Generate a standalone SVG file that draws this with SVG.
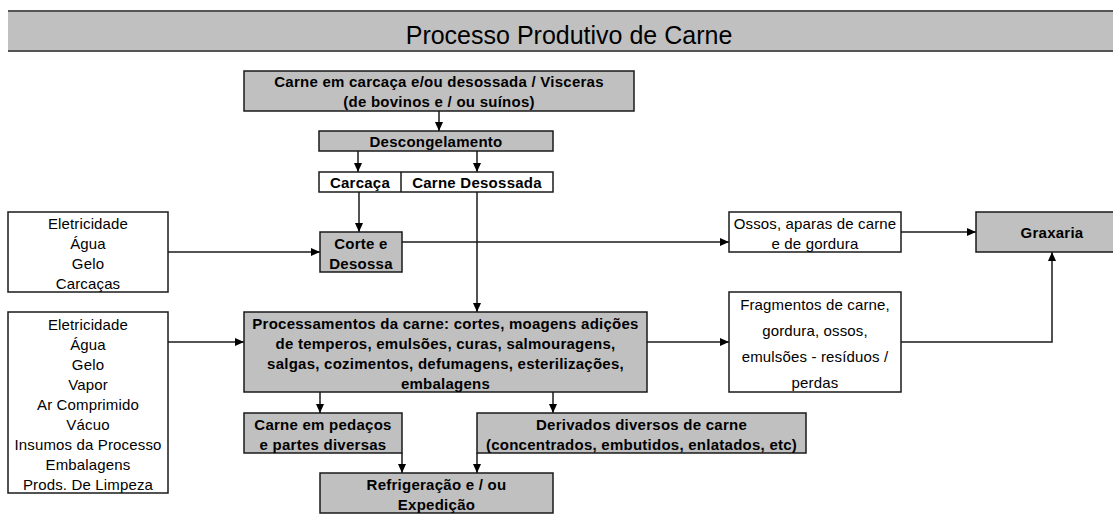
<svg xmlns="http://www.w3.org/2000/svg" width="1113" height="526" viewBox="0 0 1113 526">
<style>
.g{fill:#c0c0c0;stroke:#1a1a1a;stroke-width:1.5}
.w{fill:#fff;stroke:#1a1a1a;stroke-width:1.5}
text{font-family:"Liberation Sans",Arial,sans-serif;font-size:15px;fill:#000;text-anchor:middle;letter-spacing:0.15px}
.b{font-weight:bold;letter-spacing:0.25px}
.c{fill:none;stroke:#1a1a1a;stroke-width:1.5}
</style>
<defs>
<marker id="ah" markerUnits="userSpaceOnUse" markerWidth="9" markerHeight="8" refX="9" refY="4" orient="auto">
<path d="M0,0 L9,4 L0,8 z" fill="#000"/>
</marker>
</defs>
<rect x="0" y="0" width="1113" height="526" fill="#fff"/>
<g id="header">
<rect x="8" y="11" width="1110" height="40" fill="#c0c0c0"/>
<line x1="8" y1="11" x2="1113" y2="11" stroke="#555" stroke-width="2"/>
<line x1="8" y1="51" x2="1113" y2="51" stroke="#555" stroke-width="2"/>
<text x="569" y="44" style="font-size:25px;letter-spacing:0">Processo Produtivo de Carne</text>
</g>
<g id="connectors">
<line class="c" x1="439" y1="111" x2="439" y2="131" marker-end="url(#ah)"/>
<line class="c" x1="358" y1="151" x2="358" y2="172" marker-end="url(#ah)"/>
<line class="c" x1="477" y1="151" x2="477" y2="172" marker-end="url(#ah)"/>
<line class="c" x1="359" y1="192" x2="359" y2="232" marker-end="url(#ah)"/>
<line class="c" x1="477" y1="192" x2="477" y2="312" marker-end="url(#ah)"/>
<line class="c" x1="168" y1="252" x2="320" y2="252" marker-end="url(#ah)"/>
<line class="c" x1="402" y1="242" x2="729" y2="242" marker-end="url(#ah)"/>
<line class="c" x1="901" y1="232" x2="976" y2="232" marker-end="url(#ah)"/>
<line class="c" x1="168" y1="342" x2="244" y2="342" marker-end="url(#ah)"/>
<line class="c" x1="647" y1="342" x2="729" y2="342" marker-end="url(#ah)"/>
<polyline class="c" points="901,342 1052,342 1052,252" marker-end="url(#ah)"/>
<line class="c" x1="320" y1="392" x2="320" y2="413" marker-end="url(#ah)"/>
<line class="c" x1="553" y1="392" x2="553" y2="413" marker-end="url(#ah)"/>
<line class="c" x1="402" y1="453" x2="402" y2="473" marker-end="url(#ah)"/>
<line class="c" x1="477" y1="453" x2="477" y2="473" marker-end="url(#ah)"/>
</g>
<g id="carne-carcaca">
<rect class="g" x="244" y="71" width="390" height="40"/>
<text class="b" x="439" y="86.5">Carne em carcaça e/ou desossada / Visceras</text>
<text class="b" x="439" y="106.5">(de bovinos e / ou suínos)</text>
</g>
<g id="descongelamento">
<rect class="g" x="319" y="131" width="234" height="20"/>
<text class="b" x="436" y="146.5">Descongelamento</text>
</g>
<g id="carcaca-desossada">
<rect class="w" x="319" y="172" width="234" height="20"/>
<line class="c" x1="401" y1="172" x2="401" y2="192"/>
<text class="b" x="360" y="187.5">Carcaça</text>
<text class="b" x="477" y="187.5">Carne Desossada</text>
</g>
<g id="insumos-corte">
<rect class="w" x="8" y="212" width="160" height="80"/>
<text x="88" y="228.5">Eletricidade</text>
<text x="88" y="248.5">Água</text>
<text x="88" y="268.5">Gelo</text>
<text x="88" y="288.5">Carcaças</text>
</g>
<g id="corte-desossa">
<rect class="g" x="320" y="232" width="82" height="40"/>
<text class="b" x="361" y="248.5">Corte e</text>
<text class="b" x="361" y="268.5">Desossa</text>
</g>
<g id="ossos">
<rect class="w" x="729" y="212" width="172" height="40"/>
<text x="815" y="228.5">Ossos, aparas de carne</text>
<text x="815" y="248.5">e de gordura</text>
</g>
<g id="graxaria">
<rect class="g" x="976" y="212" width="152" height="40"/>
<text class="b" x="1052" y="237.5">Graxaria</text>
</g>
<g id="insumos-processo">
<rect class="w" x="8" y="312" width="160" height="181"/>
<text x="88" y="329.5">Eletricidade</text>
<text x="88" y="349.5">Água</text>
<text x="88" y="369.5">Gelo</text>
<text x="88" y="389.5">Vapor</text>
<text x="88" y="409.5">Ar Comprimido</text>
<text x="88" y="429.5">Vácuo</text>
<text x="88" y="449.5">Insumos da Processo</text>
<text x="88" y="469.5">Embalagens</text>
<text x="88" y="489.5">Prods. De Limpeza</text>
</g>
<g id="processamentos">
<rect class="g" x="244" y="312" width="403" height="80"/>
<text class="b" x="445.5" y="328.5">Processamentos da carne: cortes, moagens adições</text>
<text class="b" x="445.5" y="348.5">de temperos, emulsões, curas, salmouragens,</text>
<text class="b" x="445.5" y="368.5">salgas, cozimentos, defumagens, esterilizações,</text>
<text class="b" x="445.5" y="388.5">embalagens</text>
</g>
<g id="fragmentos">
<rect class="w" x="729" y="292" width="172" height="100"/>
<text x="815" y="309.5">Fragmentos de carne,</text>
<text x="815" y="335.5">gordura, ossos,</text>
<text x="815" y="361.5">emulsões - resíduos /</text>
<text x="815" y="387.5">perdas</text>
</g>
<g id="carne-pedacos">
<rect class="g" x="244" y="413" width="158" height="40"/>
<text class="b" x="323" y="429.5">Carne em pedaços</text>
<text class="b" x="323" y="449.5">e partes diversas</text>
</g>
<g id="derivados">
<rect class="g" x="477" y="413" width="329" height="40"/>
<text class="b" x="641.5" y="429.5">Derivados diversos de carne</text>
<text class="b" x="641.5" y="449.5">(concentrados, embutidos, enlatados, etc)</text>
</g>
<g id="refrigeracao">
<rect class="g" x="320" y="473" width="233" height="40"/>
<text class="b" x="436.5" y="489.5">Refrigeração e / ou</text>
<text class="b" x="436.5" y="509.5">Expedição</text>
</g>
</svg>
